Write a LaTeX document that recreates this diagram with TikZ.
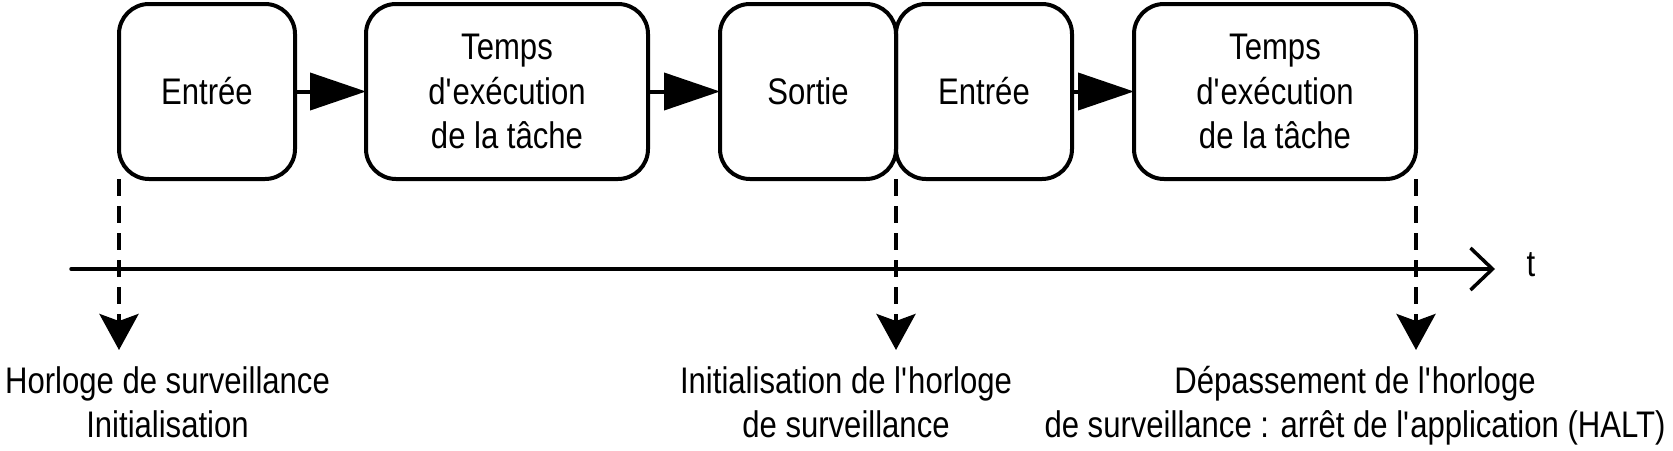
\documentclass[tikz,border=0pt]{standalone}
\usepackage{fontspec}
\defaultfontfeatures{Ligatures=TeXOff}
\setmainfont{Liberation Sans}[FakeStretch=0.84,Ligatures=TeXOff]
\usetikzlibrary{arrows.meta,positioning}
\tikzset{
    task/.style={
    rectangle,rounded corners=30pt,draw=black,line width=4pt,outer sep=0pt,inner sep=0pt,minimum height=175pt,align=center
    },
    smalltask/.style={
    task,minimum width=176pt
    },
    widetask/.style={
    task,minimum width=282pt
    },
    flow/.style={
    -{Triangle[length=56pt,width=37pt]},line width=4pt
    },
    watch/.style={
    -{Stealth[length=36pt,width=39pt,inset=7pt]},line width=4pt,dash pattern=on 17pt off 10pt
    },
    timeline/.style={
    -{Straight Barb[length=22pt,width=42pt]},line width=3.5pt,line cap=round
    },
    note/.style={
    anchor=north,align=center,inner sep=0pt
    },
}
\begin{document}
\begin{tikzpicture}[x=1pt, y=-1pt, font=\fontsize{37}{44.5}\selectfont]
   \useasboundingbox (0,0) rectangle (1673,450);
   % tasks
   \node[smalltask] (b1) at (207,91.5) {Entrée};
   \node[widetask] (b2) at (507,91.5) {Temps\\d\textquotesingle exécution\\de la tâche};
   \node[smalltask] (b3) at (808,91.5) {Sortie};
   \node[smalltask] (b4) at (984,91.5) {Entrée};
   \node[widetask] (b5) at (1275,91.5) {Temps\\d\textquotesingle exécution\\de la tâche};

  \path[flow]
    (b1) edge node {} (b2)
    (b2) edge node {} (b3)
    (b4) edge node {} (b5);

   % time axis
   \coordinate (t0) at (71,269);
   \coordinate (t1) at (1495,269);
   \draw[timeline] (t0) -- (t1);
   \node[] (tlabel) at (1531,265) {t};

   % watchdog events
   \coordinate (w1) at (119,350);
   \coordinate (w2) at (896,350);
   \coordinate (w3) at (1416,350);
   \draw[watch] (b1.south west) -- (w1);
   \draw[watch] (b3.south east) -- (w2);
   \draw[watch] (b5.south east) -- (w3);

   \node[note] (l1) at (167.5,366) {Horloge de surveillance\\Initialisation};
   \node[note] (l2) at (846,366) {Initialisation de l\textquotesingle horloge\\de surveillance};
   \node[note] (l3) at (1355,366) {Dépassement de l\textquotesingle horloge\\de surveillance : arrêt de l\textquotesingle application (HALT)};
\end{tikzpicture}
\end{document}
